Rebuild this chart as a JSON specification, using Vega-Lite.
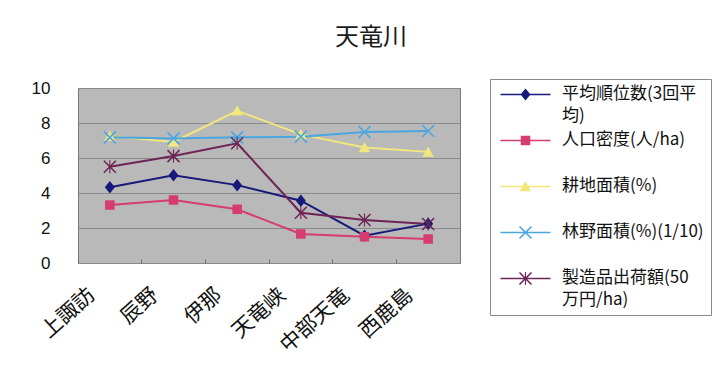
{
  "$schema": "https://vega.github.io/schema/vega-lite/v6.json",
  "width": 382,
  "height": 175,
  "autosize": {"type": "none"},
  "padding": {"left": 78, "top": 88, "right": 263, "bottom": 109},
  "background": "white",
  "title": {
    "text": "天竜川",
    "font": "Noto Sans CJK JP",
    "fontSize": 24,
    "fontWeight": "normal",
    "color": "#1a1a1a",
    "anchor": "middle",
    "dx": 102,
    "offset": 29
  },
  "config": {
    "view": {"fill": "#b9b9b9", "stroke": "#7a7a7a", "strokeWidth": 1},
    "axis": {"labelFont": "Noto Sans CJK JP", "labelColor": "#111111"}
  },
  "data": {
    "values": [
      {"area": "上諏訪", "series": "平均順位数(3回平均)", "value": 4.33},
      {"area": "辰野", "series": "平均順位数(3回平均)", "value": 5.01},
      {"area": "伊那", "series": "平均順位数(3回平均)", "value": 4.45},
      {"area": "天竜峡", "series": "平均順位数(3回平均)", "value": 3.56},
      {"area": "中部天竜", "series": "平均順位数(3回平均)", "value": 1.56},
      {"area": "西鹿島", "series": "平均順位数(3回平均)", "value": 2.25},
      {"area": "上諏訪", "series": "人口密度(人/ha)", "value": 3.31},
      {"area": "辰野", "series": "人口密度(人/ha)", "value": 3.6},
      {"area": "伊那", "series": "人口密度(人/ha)", "value": 3.07},
      {"area": "天竜峡", "series": "人口密度(人/ha)", "value": 1.66},
      {"area": "中部天竜", "series": "人口密度(人/ha)", "value": 1.5},
      {"area": "西鹿島", "series": "人口密度(人/ha)", "value": 1.37},
      {"area": "上諏訪", "series": "耕地面積(%)", "value": 7.25},
      {"area": "辰野", "series": "耕地面積(%)", "value": 6.92},
      {"area": "伊那", "series": "耕地面積(%)", "value": 8.7},
      {"area": "天竜峡", "series": "耕地面積(%)", "value": 7.35},
      {"area": "中部天竜", "series": "耕地面積(%)", "value": 6.6},
      {"area": "西鹿島", "series": "耕地面積(%)", "value": 6.35},
      {"area": "上諏訪", "series": "林野面積(%)(1/10)", "value": 7.18},
      {"area": "辰野", "series": "林野面積(%)(1/10)", "value": 7.12},
      {"area": "伊那", "series": "林野面積(%)(1/10)", "value": 7.18},
      {"area": "天竜峡", "series": "林野面積(%)(1/10)", "value": 7.22},
      {"area": "中部天竜", "series": "林野面積(%)(1/10)", "value": 7.49},
      {"area": "西鹿島", "series": "林野面積(%)(1/10)", "value": 7.54},
      {"area": "上諏訪", "series": "製造品出荷額(50万円/ha)", "value": 5.5},
      {"area": "辰野", "series": "製造品出荷額(50万円/ha)", "value": 6.11},
      {"area": "伊那", "series": "製造品出荷額(50万円/ha)", "value": 6.84},
      {"area": "天竜峡", "series": "製造品出荷額(50万円/ha)", "value": 2.87},
      {"area": "中部天竜", "series": "製造品出荷額(50万円/ha)", "value": 2.46},
      {"area": "西鹿島", "series": "製造品出荷額(50万円/ha)", "value": 2.23}
    ]
  },
  "encoding": {
    "x": {
      "field": "area",
      "type": "nominal",
      "sort": ["上諏訪", "辰野", "伊那", "天竜峡", "中部天竜", "西鹿島"],
      "scale": {"type": "band", "paddingInner": 0, "paddingOuter": 0},
      "axis": {
        "title": null,
        "domain": false,
        "grid": false,
        "bandPosition": 0,
        "ticks": true,
        "tickSize": -4,
        "tickColor": "#6e6e6e",
        "labelAngle": -42,
        "labelAlign": "right",
        "labelBaseline": "middle",
        "labelFontSize": 21,
        "labelOffset": -18,
        "labelPadding": 33
      }
    },
    "y": {
      "field": "value",
      "type": "quantitative",
      "scale": {"domain": [0, 10], "nice": false},
      "axis": {
        "title": null,
        "domain": false,
        "ticks": false,
        "values": [0, 2, 4, 6, 8, 10],
        "grid": true,
        "gridColor": "#8a8a8a",
        "gridWidth": 1,
        "labelFont": "Liberation Sans",
        "labelFontSize": 17,
        "labelPadding": 28
      }
    }
  },
  "layer": [
    {
      "mark": {"type": "line", "strokeWidth": 2},
      "encoding": {
        "color": {
          "field": "series",
          "type": "nominal",
          "scale": {
            "domain": ["平均順位数(3回平均)", "人口密度(人/ha)", "耕地面積(%)", "林野面積(%)(1/10)", "製造品出荷額(50万円/ha)"],
            "range": ["#16197a", "#d63c6e", "#f2e77c", "#4aa6e0", "#6e2456"]
          },
          "legend": null
        }
      }
    },
    {
      "mark": {"type": "point", "filled": true, "opacity": 1, "size": 100, "strokeWidth": 0},
      "encoding": {
        "color": {
          "field": "series",
          "type": "nominal",
          "scale": {
            "domain": ["平均順位数(3回平均)", "人口密度(人/ha)", "耕地面積(%)", "林野面積(%)(1/10)", "製造品出荷額(50万円/ha)"],
            "range": ["#16197a", "#d63c6e", "#f2e77c", "#4aa6e0", "#6e2456"]
          },
          "legend": null
        },
        "shape": {
          "field": "series",
          "type": "nominal",
          "scale": {
            "domain": ["平均順位数(3回平均)", "人口密度(人/ha)", "耕地面積(%)", "林野面積(%)(1/10)", "製造品出荷額(50万円/ha)"],
            "range": [
              "M0,-1.25L1,0L0,1.25L-1,0Z",
              "M-0.95,-0.95H0.95V0.95H-0.95Z",
              "M0,-1.1L1.15,0.95H-1.15Z",
              "M-1.09,-1.31L1.31,1.09L1.09,1.31L-1.31,-1.09ZM-1.31,1.09L1.09,-1.31L1.31,-1.09L-1.09,1.31Z",
              "M-1.09,-1.31L1.31,1.09L1.09,1.31L-1.31,-1.09ZM-1.31,1.09L1.09,-1.31L1.31,-1.09L-1.09,1.31ZM-0.11,-1.3H0.11V1.3H-0.11Z"
            ]
          },
          "legend": null
        }
      }
    },
    {
      "transform": [{"filter": "false"}],
      "mark": {"type": "point", "filled": true, "opacity": 1, "size": 100, "strokeWidth": 0},
      "encoding": {
        "color": {
          "field": "series",
          "type": "nominal",
          "scale": {
            "domain": ["平均順位数(3回平均)", "人口密度(人/ha)", "耕地面積(%)", "林野面積(%)(1/10)", "製造品出荷額(50万円/ha)"],
            "range": ["#16197a", "#d63c6e", "#f2e77c", "#4aa6e0", "#6e2456"]
          },
          "legend": {
            "title": null,
            "orient": "none",
            "legendX": 412,
            "legendY": -9,
            "padding": 7,
            "fillColor": "white",
            "strokeColor": "#8a8a8a",
            "symbolSize": 100,
            "symbolStrokeWidth": 0,
            "symbolOpacity": 1,
            "labelFont": "Noto Sans CJK JP",
            "labelFontSize": 17,
            "labelColor": "#111111",
            "labelBaseline": "top",
            "labelOffset": 48,
            "labelLimit": 300,
            "rowPadding": 6,
            "labelExpr": "datum.label == '平均順位数(3回平均)' ? ['平均順位数(3回平', '均)'] : datum.label == '製造品出荷額(50万円/ha)' ? ['製造品出荷額(50', '万円/ha)'] : [datum.label, '']",
            "encode": {"labels": {"update": {"dy": {"value": -9}, "lineHeight": {"value": 22}}}}
          }
        },
        "shape": {
          "field": "series",
          "type": "nominal",
          "scale": {
            "domain": ["平均順位数(3回平均)", "人口密度(人/ha)", "耕地面積(%)", "林野面積(%)(1/10)", "製造品出荷額(50万円/ha)"],
            "range": [
              "M-1,-0.15H9V0.15H-1ZM4,-1.2L5,0L4,1.2L3,0Z",
              "M-1,-0.15H9V0.15H-1ZM3.05,-0.95H4.95V0.95H3.05Z",
              "M-1,-0.15H9V0.15H-1ZM4,-1.1L5.15,0.95H2.85Z",
              "M-1,-0.15H9V0.15H-1ZM2.91,-1.31L5.31,1.09L5.09,1.31L2.69,-1.09ZM2.69,1.09L5.09,-1.31L5.31,-1.09L2.91,1.31Z",
              "M-1,-0.15H9V0.15H-1ZM2.91,-1.31L5.31,1.09L5.09,1.31L2.69,-1.09ZM2.69,1.09L5.09,-1.31L5.31,-1.09L2.91,1.31ZM3.89,-1.3H4.11V1.3H3.89Z"
            ]
          },
          "legend": {
            "title": null,
            "orient": "none",
            "legendX": 412,
            "legendY": -9,
            "padding": 7,
            "fillColor": "white",
            "strokeColor": "#8a8a8a",
            "symbolSize": 100,
            "symbolStrokeWidth": 0,
            "symbolOpacity": 1,
            "labelFont": "Noto Sans CJK JP",
            "labelFontSize": 17,
            "labelColor": "#111111",
            "labelBaseline": "top",
            "labelOffset": 48,
            "labelLimit": 300,
            "rowPadding": 6,
            "labelExpr": "datum.label == '平均順位数(3回平均)' ? ['平均順位数(3回平', '均)'] : datum.label == '製造品出荷額(50万円/ha)' ? ['製造品出荷額(50', '万円/ha)'] : [datum.label, '']",
            "encode": {"labels": {"update": {"dy": {"value": -9}, "lineHeight": {"value": 22}}}}
          }
        }
      }
    }
  ],
  "resolve": {"scale": {"color": "independent", "shape": "independent"}}
}
